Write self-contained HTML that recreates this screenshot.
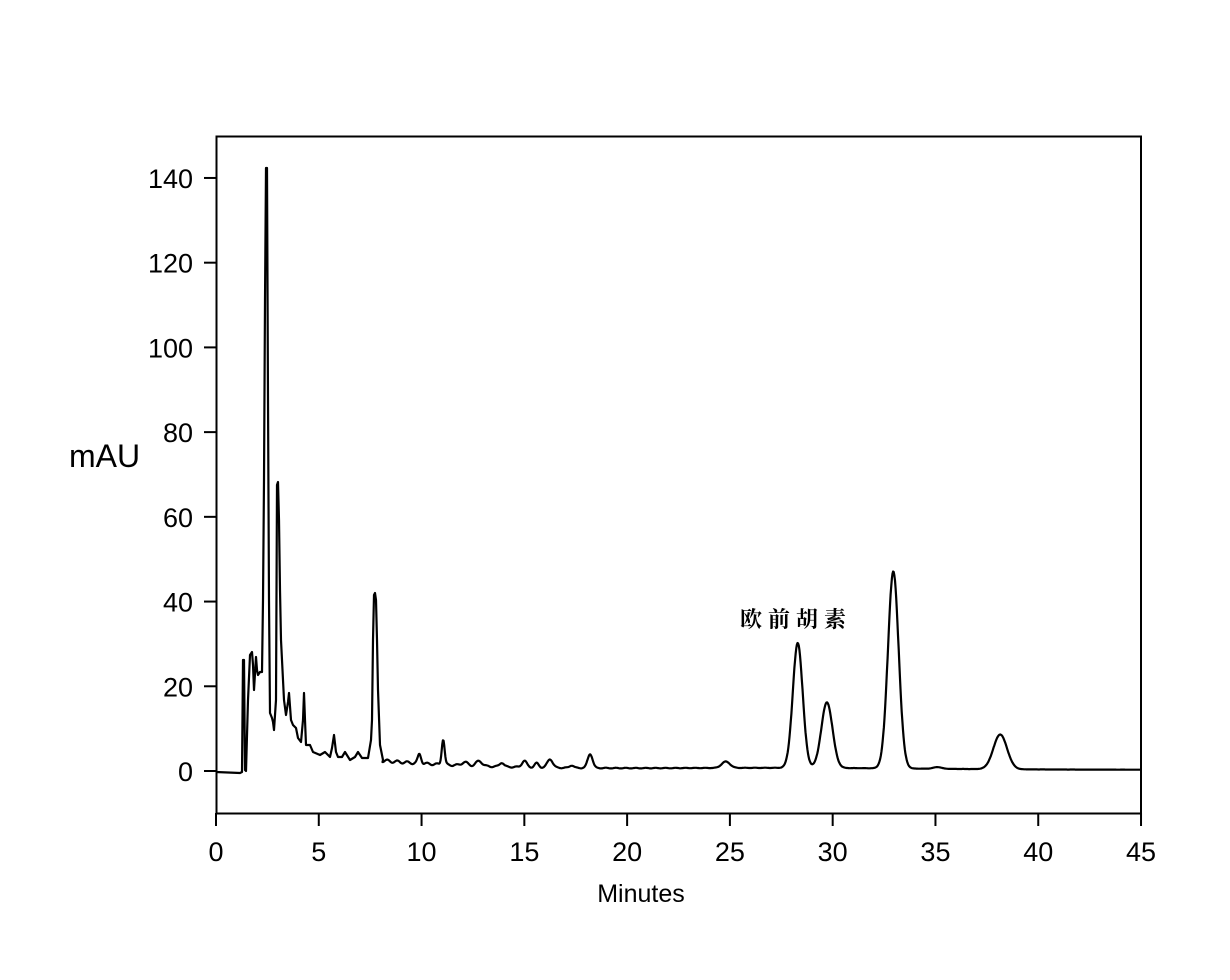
<!DOCTYPE html>
<html><head><meta charset="utf-8"><style>
html,body{margin:0;padding:0;background:#fff;}
svg{display:block;}
text{font-family:"Liberation Sans",Arial,sans-serif;fill:#000;}
</style></head><body>
<svg id="s" width="1230" height="980" viewBox="0 0 1230 980" xmlns="http://www.w3.org/2000/svg">
<rect x="216.5" y="136.5" width="924.5" height="677" fill="none" stroke="#000" stroke-width="2"/>
<g id="ticks" stroke="#000" stroke-width="2"></g>
<g id="labels" font-size="27"></g>
<text x="69" y="467" font-size="32">mAU</text>
<text x="641" y="902" font-size="25" text-anchor="middle">Minutes</text>
<text x="740" y="627" font-size="22" font-weight="bold" letter-spacing="6" style="font-family:'Liberation Serif','Noto Serif CJK SC',serif">欧前胡素</text>
<path id="trace" fill="none" stroke="#000" stroke-width="2.2" stroke-linejoin="round"/>
</svg>
<script>
var X=function(t){return 216+20.556*t},Y=function(v){return 771-4.236*v};
var tk=document.getElementById('ticks'),lb=document.getElementById('labels'),ns='http://www.w3.org/2000/svg';
function el(p,tag,a,txt){var e=document.createElementNS(ns,tag);for(var k in a)e.setAttribute(k,a[k]);if(txt!=null)e.textContent=txt;p.appendChild(e);}
for(var v=0;v<=140;v+=20){var y=Y(v);el(tk,'line',{x1:204,x2:216,y1:y,y2:y});el(lb,'text',{x:193,y:y+10,'text-anchor':'end'},v);}
for(var t=0;t<=45;t+=5){var x=X(t);el(tk,'line',{x1:x,x2:x,y1:813,y2:826});el(lb,'text',{x:x,y:861,'text-anchor':'middle'},t);}
var pts=[[216,772],[240,773],[242,772],[243,660],[244,660],[245,770],[246,771],[248,700],[250,655],[252,652],[253,665],[254,690],[256,657],[257,670],[258,675],[260,672],[262,672],[263,600],[264,480],[265,300],[266,168],[267,168],[268,400],[269,600],[270,713],[272,718],[273,722],[274,730],[276,700],[277,485],[278,482],[279,520],[280,590],[281,640],[284,700],[286,715],[288,702],[289,693],[291,720],[293,725],[296,728],[298,738],[301,742],[303,720],[304,693],[305,720],[306,745],[310,745],[313,752],[320,755],[325,752],[330,757],[332,748],[334,735],[336,752],[338,757],[342,757],[345,752],[350,760],[355,757],[358,752],[362,758],[368,758],[371,740],[372,720],[373,640],[374,595],[375,593],[376,600],[377,640],[378,690],[380,745],[383,760]];
var pk=[[9.9,2.2,0.08],[11.05,6,0.07],[12.1,0.8,0.15],[12.8,1.2,0.15],[13.9,1,0.1],[15.0,1.5,0.12],[15.6,1,0.1],[16.25,2,0.13],[17.3,0.6,0.1],[18.2,3.3,0.12],[24.8,1.5,0.2],[28.3,29.5,0.24],[29.72,15.5,0.27],[32.95,46.5,0.26],[35.1,0.4,0.2],[38.15,8.2,0.33]];
var d='M'+pts.map(function(p){return p[0]+','+p[1]}).join(' L');
for(var t=8.1;t<=45;t+=0.03){var b=0.3+2.2*Math.exp(-(t-8)/5)+0.4*Math.exp(-Math.pow((t-28)/9,2));var s=b;
for(var i=0;i<pk.length;i++){var q=pk[i];s+=q[1]*Math.exp(-Math.pow(t-q[0],2)/(2*q[2]*q[2]));}
s+=0.35*Math.sin(t*13)*Math.exp(-(t-8)/8);
d+=' L'+X(t).toFixed(1)+','+Y(s).toFixed(1);}
document.getElementById('trace').setAttribute('d',d);
</script>
</body></html>
